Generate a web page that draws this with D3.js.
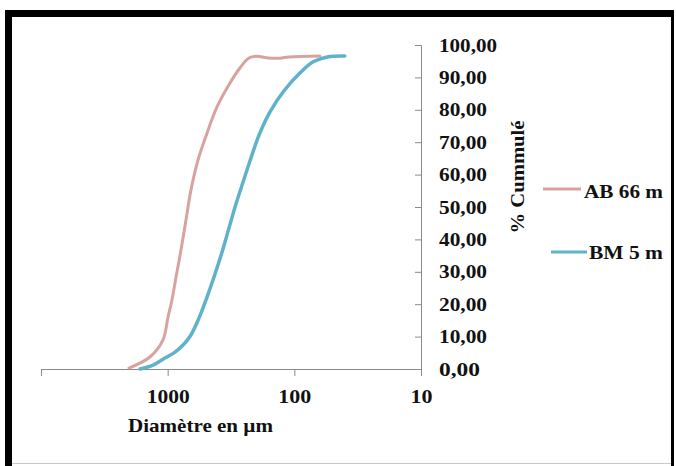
<!DOCTYPE html>
<html>
<head>
<meta charset="utf-8">
<script src="https://cdn.jsdelivr.net/npm/d3@7"></script>
<style>
  html, body { margin: 0; padding: 0; background: #fff; }
  svg { display: block; }
</style>
</head>
<body>
<svg id="chart" width="676" height="466"></svg>
<script>
// ---- data ----
const seriesNames = ["AB 66 m", "BM 5 m"];
const abDiam = [2020, 1380, 1089, 994, 925, 859, 785, 717, 655, 576, 489, 408, 322, 269, 230, 200, 160, 135, 110, 63];
const abCum  = [0.3, 3.7, 9.0, 16.0, 21.3, 28.4, 36.7, 46.0, 55.2, 64.5, 72.8, 80.9, 88.3, 92.9, 95.9, 96.5, 96.0, 95.9, 96.3, 96.6];
const bmDiam = [1653, 1306, 1050, 875, 743, 655, 566, 489, 423, 372, 328, 289, 254, 224, 190, 156, 121, 90, 71, 55, 40];
const bmCum  = [0.0, 1.2, 3.4, 5.2, 7.7, 10.5, 15.7, 22.2, 29.3, 36.1, 43.5, 50.9, 57.7, 64.2, 72.2, 79.3, 85.8, 91.4, 94.8, 96.3, 96.6];
const xTicks = [10000, 1000, 100, 10];
const xTickLabels = ["", "1000", "100", "10"];
const yTicks = [0, 10, 20, 30, 40, 50, 60, 70, 80, 90, 100];
const xTitle = "Diamètre en µm";
const yTitle = "% Cummulé";
const colors = ["#d8a39f", "#5fb2ca"];

const FONT = "'Liberation Serif', 'Times New Roman', 'DejaVu Serif', serif";
const svg = d3.select("#chart");

function styleText(sel) {
  return sel.style("font-family", FONT).style("font-weight", "bold").style("fill", "#111").attr("font-size", 19);
}

// frame
svg.append("rect").attr("x", 5).attr("y", 10).attr("width", 668).attr("height", 7).attr("fill", "#000");
svg.append("rect").attr("x", 5).attr("y", 10).attr("width", 7).attr("height", 456).attr("fill", "#000");
svg.append("rect").attr("x", 671).attr("y", 10).attr("width", 3).attr("height", 456).attr("fill", "#000");
svg.append("line").attr("x1", 12).attr("x2", 671).attr("y1", 463.5).attr("y2", 463.5).attr("stroke", "#c8c8c8").attr("stroke-width", 1);

// scales
const x = d3.scaleLog().domain([10000, 10]).range([41, 421]);
const y = d3.scaleLinear().domain([0, 100]).range([369, 45]);

// x axis
const xAxis = d3.axisBottom(x)
  .tickValues(xTicks)
  .tickFormat((d, i) => xTickLabels[i])
  .tickSizeInner(7).tickSizeOuter(7).tickPadding(14);
const gx = svg.append("g").attr("transform", "translate(0,369)").call(xAxis);
gx.select(".domain").attr("stroke", "#8a8a8a");
gx.selectAll(".tick line").attr("stroke", "#8a8a8a");
styleText(gx.selectAll(".tick text"))
  .attr("textLength", function(d) { return [0, 43, 33, 22][xTicks.indexOf(d)]; })
  .attr("lengthAdjust", "spacingAndGlyphs");

// y axis
const fmt = d => d3.format(".2f")(d).replace(".", ",");
const yAxis = d3.axisRight(y)
  .tickValues(yTicks)
  .tickFormat(fmt)
  .tickSizeInner(-6).tickSizeOuter(-6).tickPadding(18);
const gy = svg.append("g").attr("transform", "translate(421,0)").call(yAxis);
gy.select(".domain").attr("stroke", "#8a8a8a");
gy.selectAll(".tick line").attr("stroke", "#8a8a8a");
styleText(gy.selectAll(".tick text"))
  .attr("textLength", function(d) { return fmt(d).length === 6 ? 58 : (d === 0 ? 41 : 48); })
  .attr("lengthAdjust", "spacingAndGlyphs");

// titles
styleText(svg.append("text").attr("x", 128).attr("y", 432))
  .attr("textLength", 145).attr("lengthAdjust", "spacingAndGlyphs").text(xTitle);
styleText(svg.append("text").attr("transform", "translate(524,177) rotate(-90)").attr("text-anchor", "middle"))
  .attr("textLength", 113).attr("lengthAdjust", "spacingAndGlyphs").text(yTitle);

// lines
const line = d3.line()
  .x(d => x(d[0]))
  .y(d => y(d[1]))
  .curve(d3.curveCatmullRom.alpha(0.5));

const seriesData = [
  d3.zip(abDiam, abCum),
  d3.zip(bmDiam, bmCum)
];
const widths = [3, 3.5];

svg.append("g").selectAll("path")
  .data(seriesData)
  .join("path")
  .attr("d", d => line(d))
  .attr("fill", "none")
  .attr("stroke", (d, i) => colors[i])
  .attr("stroke-width", (d, i) => widths[i])
  .attr("stroke-linecap", "round")
  .attr("stroke-linejoin", "round");

// legend
const legend = [
  { x1: 543, x2: 581, y: 189, tx: 584, ty: 198, tl: 79 },
  { x1: 551, x2: 587, y: 252, tx: 589, ty: 259, tl: 74 }
];
legend.forEach((l, i) => {
  svg.append("line").attr("x1", l.x1).attr("x2", l.x2).attr("y1", l.y).attr("y2", l.y)
    .attr("stroke", colors[i]).attr("stroke-width", 3);
  styleText(svg.append("text").attr("x", l.tx).attr("y", l.ty))
    .attr("textLength", l.tl).attr("lengthAdjust", "spacingAndGlyphs").text(seriesNames[i]);
});
</script>
</body>
</html>
